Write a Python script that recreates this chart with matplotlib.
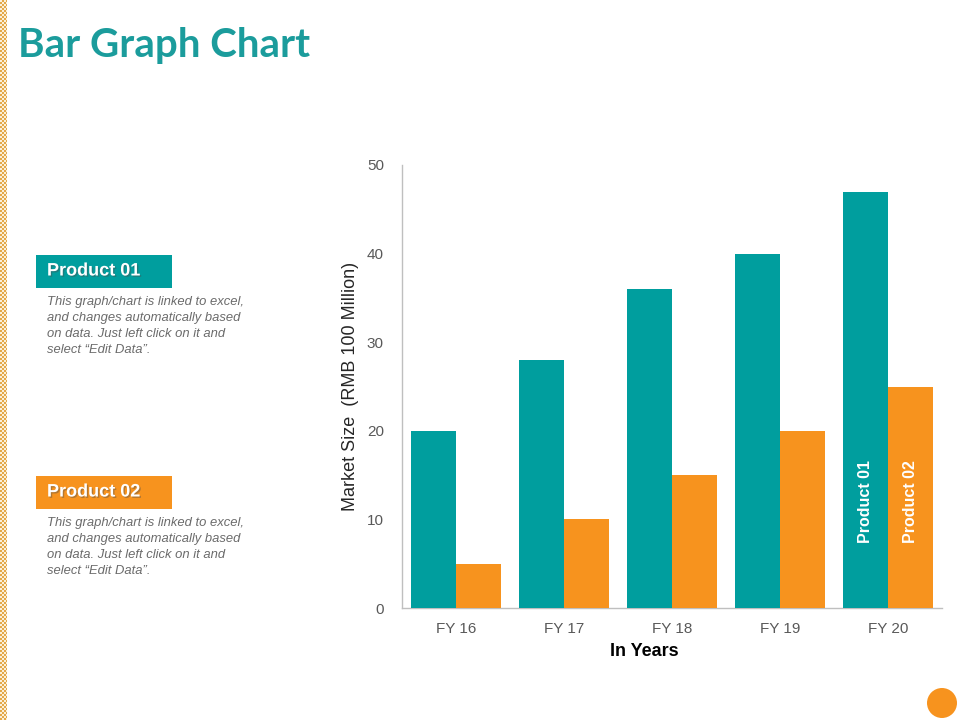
import matplotlib.pyplot as plt
import numpy as np
from matplotlib.patches import Rectangle, Ellipse
import matplotlib.patheffects as pe

# ── Data ─────────────────────────────────────────────────────────────────────
years      = ['FY 16', 'FY 17', 'FY 18', 'FY 19', 'FY 20']
product_01 = [20, 28, 36, 40, 47]
product_02 = [5, 10, 15, 20, 25]

# ── Colours ──────────────────────────────────────────────────────────────────
C_TEAL   = '#009e9e'
C_ORANGE = '#f7931e'
C_TITLE  = '#1b9c9c'
C_TICK   = '#595959'
C_DESC   = '#6b6b6b'

plt.rcParams['font.family'] = ['Liberation Sans', 'DejaVu Sans']

fig = plt.figure(figsize=(9.6, 7.2), dpi=100)
fig.patch.set_facecolor('white')

# left decorative strip: small orange / cream checkerboard
yy, xx = np.mgrid[0:720, 0:7]
check = ((yy // 2 + xx // 2) % 2).astype(bool)
strip = np.ones((720, 7, 3))
strip[check] = np.array([0xe3, 0xa8, 0x4a]) / 255
strip[~check] = np.array([0xfb, 0xf0, 0xd8]) / 255
fig.figimage(strip, xo=0, yo=0, origin='upper', zorder=5)

# title
fig.text(18 / 960, 1 - 46 / 720, 'Bar Graph Chart', color=C_TITLE,
         fontsize=29, fontweight='bold', va='center', ha='left',
         family=['Lato', 'DejaVu Sans'])

# ── Side boxes ───────────────────────────────────────────────────────────────
desc = ('This graph/chart is linked to excel,\n'
        'and changes automatically based\n'
        'on data. Just left click on it and\n'
        'select \u201cEdit Data\u201d.')

for top, label, col in [(255, 'Product 01', C_TEAL), (476, 'Product 02', C_ORANGE)]:
    fig.patches.append(Rectangle((36 / 960, 1 - (top + 33) / 720), 136 / 960, 33 / 720,
                                 transform=fig.transFigure, facecolor=col,
                                 edgecolor='none'))
    fig.text(47 / 960, 1 - (top + 16) / 720, label, color='white', fontsize=13,
             fontweight='bold', va='center', ha='left',
             path_effects=[pe.withSimplePatchShadow(offset=(1, -1), alpha=0.4)])
    fig.text(47 / 960, 1 - (top + 41) / 720, desc, color=C_DESC, fontsize=9.4,
             style='italic', va='top', ha='left', linespacing=1.45)

# orange dot bottom right
fig.patches.append(Ellipse((942 / 960, 1 - 703 / 720), 30 / 960, 30 / 720,
                           transform=fig.transFigure, facecolor=C_ORANGE,
                           edgecolor='none'))

# ── Chart ────────────────────────────────────────────────────────────────────
ax = fig.add_axes([402 / 960, 1 - 608 / 720, 540 / 960, 443 / 720])
x = np.arange(len(years))
w = 0.4167

ax.bar(x - w / 2, product_01, w, color=C_TEAL, zorder=3)
ax.bar(x + w / 2, product_02, w, color=C_ORANGE, zorder=3)

ax.set_xlim(-0.5, len(years) - 0.5)
ax.set_ylim(0, 50)
ax.set_yticks(range(0, 51, 10))
ax.set_xticks(x)
ax.set_xticklabels(years)
ax.tick_params(axis='both', length=0, colors=C_TICK, labelsize=11)
ax.tick_params(axis='y', pad=13)
ax.tick_params(axis='x', pad=10)

for s in ['top', 'right']:
    ax.spines[s].set_visible(False)
for s in ['left', 'bottom']:
    ax.spines[s].set_color('#bfbfbf')
    ax.spines[s].set_linewidth(1)

ax.set_ylabel('Market Size  (RMB 100 Million)', fontsize=13, color='#262626',
              labelpad=6)

fig.text(644 / 960, 1 - 651 / 720, 'In Years', fontsize=13, fontweight='bold',
         color='black', ha='center', va='center')

# labels inside the last group of bars
last = len(years) - 1
ax.text(last - w / 2, 12, 'Product 01', rotation=90, color='white', fontsize=11.5,
        fontweight='bold', ha='center', va='center', zorder=4)
ax.text(last + w / 2, 12, 'Product 02', rotation=90, color='white', fontsize=11.5,
        fontweight='bold', ha='center', va='center', zorder=4)

fig.savefig('out.png', dpi=100, facecolor=fig.get_facecolor())
